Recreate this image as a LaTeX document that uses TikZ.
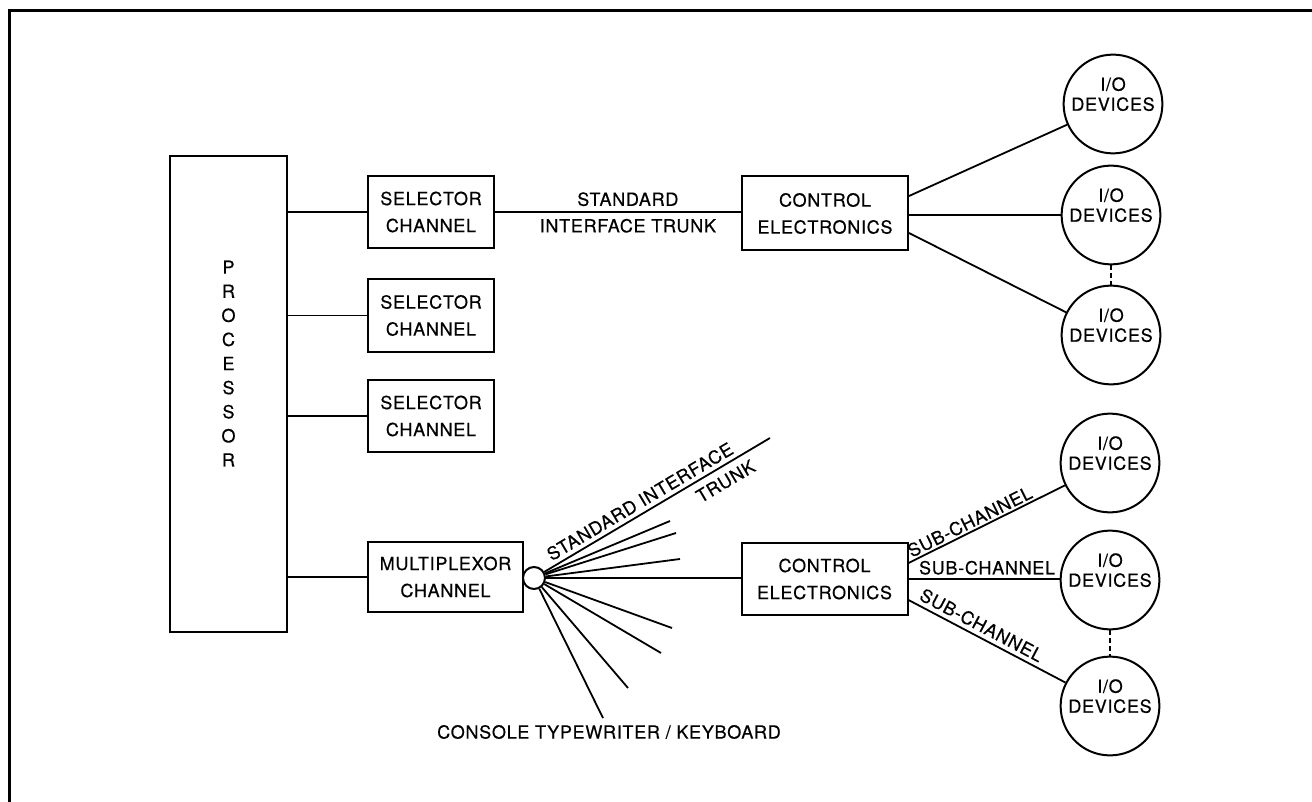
\documentclass[tikz,border=0pt]{standalone}
\usepackage{fontspec}
\setmainfont{TeX Gyre Heros}[LetterSpace=4, FakeBold=0.5]
\newcommand\dglab{\fontsize{18}{27}\selectfont}
\newcommand\dgio{\fontsize{18}{20}\selectfont}
\newcommand\dgproc{\fontsize{18}{24.1}\selectfont}
\begin{document}
\begin{tikzpicture}[x=1pt,y=-1pt,
  wire/.style={line width=1.8pt},
  box/.style={draw, line width=2pt, align=center, inner sep=0pt, font=\dglab},
  selbox/.style={box, minimum width=126pt, minimum height=72pt},
  cebox/.style={box, minimum width=166pt, minimum height=74pt},
  iodev/.style={draw, circle, line width=2pt, minimum size=91pt, inner sep=0pt, align=center, font=\dgio},
  lbl/.style={font=\dglab, inner sep=3pt},
  gapline/.style={line width=1.8pt, dash pattern=on 5pt off 3pt}]
\useasboundingbox (0,0) rectangle (1312,802);
% frame
\coordinate (frTR) at (1312,11);
\coordinate (frTL) at (9,11);
\coordinate (frBL) at (9,802);
\draw[line width=3pt] (frTR) -- (frTL) -- (frBL);

% processor
\node[box, minimum width=117pt, minimum height=476pt] (proc) at (228.5,394) {};
\node[font=\dgproc, align=center, inner sep=0pt] (proctext) at (228.5,363.5) {P\\R\\O\\C\\E\\S\\S\\O\\R};

% channels
\node[selbox] (s1) at (431,212) {SELECTOR\\CHANNEL};
\node[selbox] (s2) at (431,315.5) {SELECTOR\\CHANNEL};
\node[selbox] (s3) at (431,416) {SELECTOR\\CHANNEL};
\node[box, minimum width=155pt, minimum height=70pt] (mux) at (445.5,577) {MULTIPLEXOR\\CHANNEL};

\draw[wire] (proc.east |- s1) -- (s1);
\draw[wire] (proc.east |- s2) -- (s2);
\draw[wire] (proc.east |- s3) -- (s3);
\draw[wire] (proc.east |- mux) -- (mux);

% control electronics
\node[cebox] (ce1) at (825,213.5) {CONTROL\\ELECTRONICS};
\node[cebox, minimum height=72pt] (ce2) at (824.5,579) {CONTROL\\ELECTRONICS};

\draw[wire] (s1.east) -- node[lbl, above, pos=0.54, inner sep=5pt]{STANDARD}
  node[lbl, below, pos=0.54, inner sep=6pt]{INTERFACE TRUNK} (s1.east -| ce1.west);

% I/O devices, upper group
\node[iodev] (io1) at (1113,104) {I/O\\DEVICES\\\mbox{}};
\node[iodev] (io2) at (1111,215) {I/O\\DEVICES\\\mbox{}};
\node[iodev] (io3) at (1111,335) {I/O\\DEVICES\\\mbox{}};
\draw[wire] ([yshift=17.5pt]ce1.east) -- (io1);
\draw[wire] (ce1.east |- io2) -- (io2);
\draw[wire] ([yshift=-19.5pt]ce1.east) -- (io3);
\draw[gapline] (io2.south) -- (io3.north);

% I/O devices, lower group
\node[iodev] (io4) at (1110,463) {I/O\\DEVICES\\\mbox{}};
\node[iodev] (io5) at (1110,580) {I/O\\DEVICES\\\mbox{}};
\node[iodev] (io6) at (1110,706) {I/O\\DEVICES\\\mbox{}};
\draw[wire] ([yshift=16pt]ce2.east) -- node[lbl, sloped, above, pos=0.42, inner sep=2pt]{SUB-CHANNEL} (io4);
\draw[wire] (ce2.east) -- node[lbl, above, pos=0.52, inner sep=3.5pt]{SUB-CHANNEL} (ce2.east -| io5.west);
\draw[wire] ([yshift=-21pt]ce2.east) -- node[lbl, sloped, above, pos=0.43, inner sep=4pt]{SUB-CHANNEL} (io6);
\draw[gapline] (io5.south) -- (io6.north);

% multiplexor hub and fan
\node[draw, circle, line width=2pt, minimum size=22pt, inner sep=0pt, fill=white] (hub) at (534,578) {};
\draw[wire] (hub) -- (ce2.west |- hub);
\coordinate (f1) at (770,438);
\coordinate (f2) at (670,521);
\coordinate (f3) at (676,533);
\coordinate (f4) at (680,559);
\coordinate (f5) at (672,628);
\coordinate (f6) at (661,653);
\coordinate (f7) at (628,688);
\coordinate (f8) at (603,718);
\draw[wire] (hub) -- node[lbl, sloped, above, pos=0.45, inner sep=4pt]{STANDARD INTERFACE}
  node[lbl, sloped, below, pos=0.77, inner sep=7pt]{TRUNK} (f1);
\foreach \f in {f2,f3,f4,f5,f6,f7,f8} \draw[wire] (hub) -- (\f);
\node[lbl, inner sep=0pt] (console) at (609,732) {CONSOLE TYPEWRITER / KEYBOARD};
\end{tikzpicture}
\end{document}
